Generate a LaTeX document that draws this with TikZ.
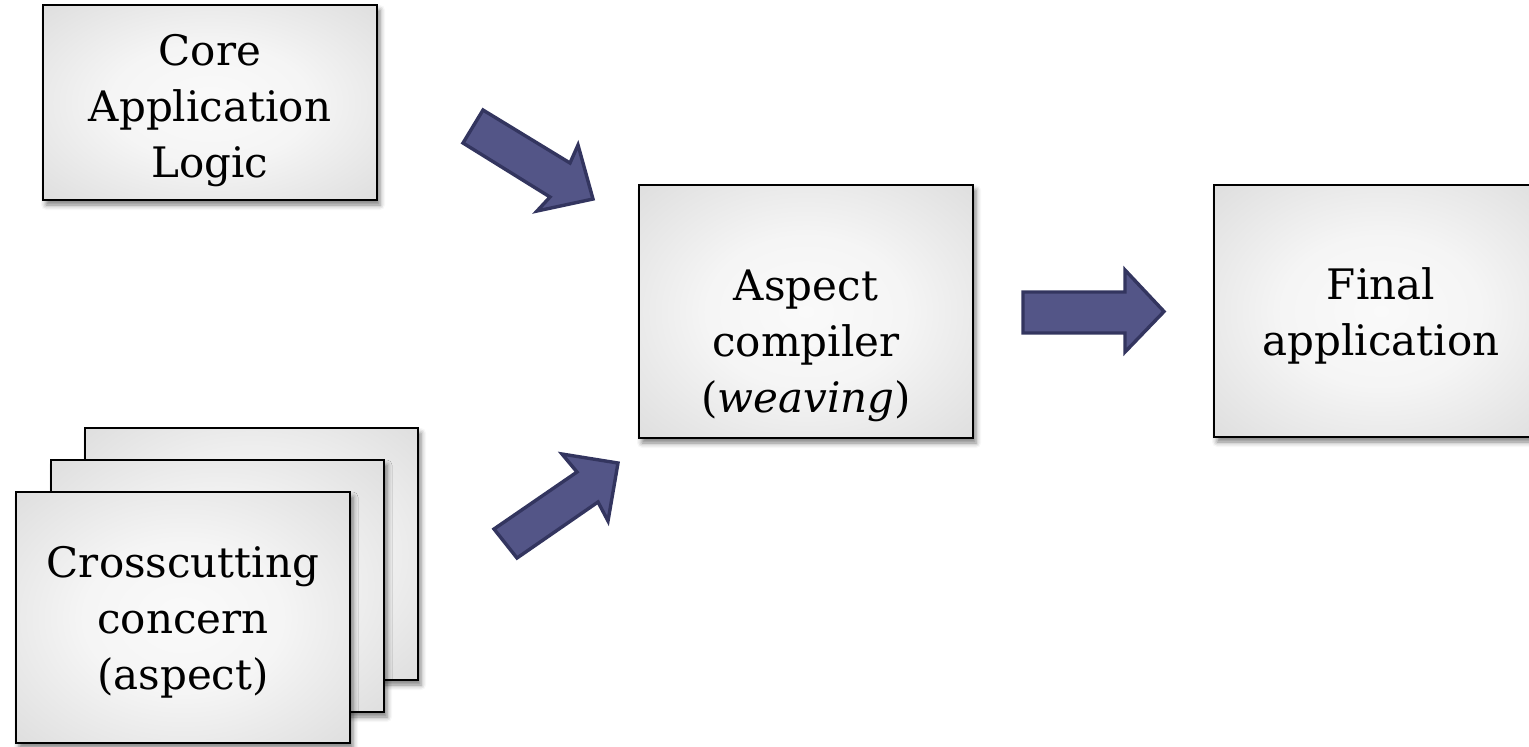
\documentclass[tikz,border=0pt]{standalone}
\usepackage{fontspec}
\setmainfont{DejaVu Serif}
\usetikzlibrary{shadows.blur}
\pgfdeclareradialshading{boxshade}{\pgfpoint{0bp}{0bp}}{color(0bp)=(white!98!black); color(15bp)=(white!96!black); color(50bp)=(black!19); color(72bp)=(black!24)}
\definecolor{arrowfill}{HTML}{535587}
\definecolor{arrowdraw}{HTML}{33355F}
\begin{document}
\begin{tikzpicture}[x=0.5pt,y=-0.5pt,
  box/.style={draw=black, line width=1pt, shading=boxshade, inner sep=0pt,
    blur shadow={shadow xshift=1.5pt, shadow yshift=-2.5pt, shadow blur radius=2.5pt, shadow opacity=50}},
  txt/.style={font=\fontsize{21}{28}\selectfont, align=center, inner sep=0pt, anchor=base},
  blockarrow/.style={fill=arrowfill, draw=arrowdraw, line width=1.7pt, line join=miter}]
\useasboundingbox (0,0) rectangle (1529,746);
\clip (0,0) rectangle (1529,746);
% boxes
\node[box, minimum width=167pt, minimum height=97.5pt] (core) at (210,102.5) {};
\node[box, minimum width=167pt, minimum height=126.5pt] (weaver) at (806,311.5) {};
\node[box, minimum width=167pt, minimum height=126pt] (final) at (1381,311) {};
\node[box, minimum width=166.5pt, minimum height=126pt] (aspC) at (251.5,554) {};
\node[box, minimum width=166.5pt, minimum height=126pt] (aspB) at (217.5,586) {};
\node[box, minimum width=167pt, minimum height=125.5pt] (aspA) at (183,617.5) {};
% texts (base anchor = baseline of the last line)
\node[txt] (coretxt) at (210,177) {Core\\Application\\Logic};
\node[txt] (weavertxt) at (806,412) {Aspect\\compiler\\(\textit{weaving})};
\node[txt] (finaltxt) at (1381,355) {Final\\application};
\node[txt] (asptxt) at (183,689) {Crosscutting\\concern\\(aspect)};
% block arrows
\draw[blockarrow] (483,110) -- (570,163) -- (578,145) -- (593,199) -- (537,211) -- (550,197) -- (463,143) -- cycle;
\draw[blockarrow] (494,529) -- (577,472) -- (562,454) -- (618,463) -- (608,521) -- (598,502) -- (517,558) -- cycle;
\draw[blockarrow] (1023,292) -- (1125,292) -- (1125,270) -- (1164,311.5) -- (1125,352) -- (1125,333) -- (1023,333) -- cycle;
\end{tikzpicture}
\end{document}
